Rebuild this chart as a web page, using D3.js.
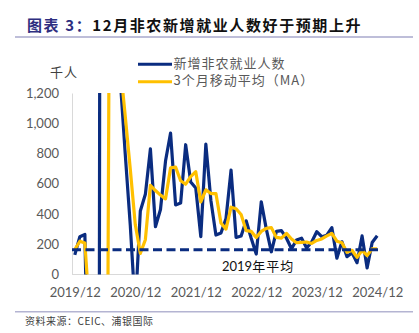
<!DOCTYPE html>
<html>
<head>
<meta charset="utf-8">
<script src="https://cdn.jsdelivr.net/npm/d3@7/dist/d3.min.js"></script>
<style>
  html, body { margin: 0; padding: 0; background: #fff; }
  svg { display: block; }
</style>
</head>
<body>
<svg id="chart" width="419" height="333"></svg>
<script>
// Monthly categories, Dec 2019 – Dec 2024
const months = [
  "2019/12",
  "2020/01","2020/02","2020/03","2020/04","2020/05","2020/06","2020/07","2020/08","2020/09","2020/10","2020/11","2020/12",
  "2021/01","2021/02","2021/03","2021/04","2021/05","2021/06","2021/07","2021/08","2021/09","2021/10","2021/11","2021/12",
  "2022/01","2022/02","2022/03","2022/04","2022/05","2022/06","2022/07","2022/08","2022/09","2022/10","2022/11","2022/12",
  "2023/01","2023/02","2023/03","2023/04","2023/05","2023/06","2023/07","2023/08","2023/09","2023/10","2023/11","2023/12",
  "2024/01","2024/02","2024/03","2024/04","2024/05","2024/06","2024/07","2024/08","2024/09","2024/10","2024/11","2024/12"
];

// 新增非农就业人数 (千人)
const payrolls = [
  130,
  250, 265, -1373, -20477, 2794, 4573, 1726, 1583, 1300, 800, 330, -230,
  420, 530, 830, 316, 430, 750, 935, 460, 472, 858, 612, 572,
  250, 862, 490, 261, 275, 370, 690, 245, 255, 355, 240, 135,
  481, 300, 150, 285, 290, 240, 170, 228, 240, 175, 215, 283,
  250, 260, 310, 108, 216, 118, 144, 78, 255, 43, 212, 256
];

// 3个月移动平均 (千人)
const movingAvg = [
  165,
  220, 208, -290, -7200, -6350, -4370, 3030, 2630, 1390, 1050, 700, 330,
  140, 230, 590, 555, 525, 500, 705, 710, 620, 597, 647, 680,
  480, 560, 535, 535, 340, 300, 445, 435, 397, 290, 285, 245,
  285, 305, 310, 245, 240, 272, 235, 210, 213, 215, 205, 225,
  235, 255, 272, 220, 210, 147, 160, 113, 160, 125, 170, 170
];

// 2019年平均
const avg2019 = 163;

const xTickLabels = ["2019/12", "2020/12", "2021/12", "2022/12", "2023/12", "2024/12"];
const yTicks = [0, 200, 400, 600, 800, 1000, 1200];

const legendItems = [
  { name: "新增非农就业人数", color: "#0A2C80" },
  { name: "3个月移动平均（MA）", color: "#FFC000" }
];

const svg = d3.select("#chart");
const NAVY = "#0A2C80";
const GOLD = "#FFC000";
const LATIN = "Lato, 'Liberation Sans', sans-serif";
const CJK = "'Noto Sans CJK SC', 'Noto Sans', sans-serif";

// Title
const title = svg.append("text")
  .attr("x", 27).attr("y", 31)
  .attr("font-family", CJK)
  .attr("font-size", 15)
  .attr("font-weight", "bold")
  .attr("letter-spacing", 1.6);
title.append("tspan").attr("fill", "#2E2E80").text("图表 3：");
title.append("tspan").attr("fill", "#111").text("12月非农新增就业人数好于预期上升");

svg.append("line")
  .attr("x1", 15).attr("x2", 413).attr("y1", 37).attr("y2", 37)
  .attr("stroke", "#A8A8CC").attr("stroke-width", 1.5);

// Plot area
const plot = { left: 72, right: 380, top: 93, bottom: 274.5 };

const x = d3.scalePoint()
  .domain(months)
  .range([74.8, 377.2]);

const y = d3.scaleLinear()
  .domain([0, 1200])
  .range([plot.bottom, plot.top]);

svg.append("defs").append("clipPath").attr("id", "plotClip")
  .append("rect")
  .attr("x", plot.left).attr("y", plot.top)
  .attr("width", plot.right - plot.left)
  .attr("height", plot.bottom - plot.top);

// Y axis
const yAxis = svg.append("g")
  .attr("transform", `translate(${plot.left},0)`)
  .call(d3.axisLeft(y).tickValues(yTicks).tickFormat(d3.format(",")).tickSize(0).tickPadding(13));
yAxis.select(".domain").attr("stroke", "#D9D9D9").attr("stroke-width", 1);
yAxis.selectAll("text")
  .attr("font-family", LATIN).attr("font-size", 13).attr("fill", "#595959");

// X axis
const xAxis = svg.append("g")
  .attr("transform", `translate(0,${plot.bottom})`)
  .call(d3.axisBottom(x).tickValues(xTickLabels).tickSize(0).tickPadding(13));
xAxis.select(".domain").remove();
xAxis.selectAll("text")
  .attr("font-family", LATIN).attr("font-size", 13).attr("fill", "#595959");
svg.append("line")
  .attr("x1", plot.left).attr("x2", plot.right)
  .attr("y1", plot.bottom).attr("y2", plot.bottom)
  .attr("stroke", "#D9D9D9").attr("stroke-width", 1);

// Unit label
svg.append("text")
  .attr("x", 50).attr("y", 73)
  .attr("dominant-baseline", "middle")
  .attr("font-family", CJK).attr("font-size", 13)
  .attr("letter-spacing", 1)
  .attr("fill", "#404040")
  .text("千人");

// Series lines
const lineGen = d3.line()
  .x((d, i) => x(months[i]))
  .y(d => y(d));

const series = svg.append("g").attr("clip-path", "url(#plotClip)");

series.append("path")
  .datum(payrolls)
  .attr("d", lineGen)
  .attr("fill", "none")
  .attr("stroke", NAVY)
  .attr("stroke-width", 3.2)
  .attr("stroke-linejoin", "round");

series.append("path")
  .datum(movingAvg)
  .attr("d", lineGen)
  .attr("fill", "none")
  .attr("stroke", GOLD)
  .attr("stroke-width", 3.2)
  .attr("stroke-linejoin", "round");

// 2019 average reference line
svg.append("line")
  .attr("x1", plot.left).attr("x2", plot.right)
  .attr("y1", y(avg2019)).attr("y2", y(avg2019))
  .attr("stroke", NAVY)
  .attr("stroke-width", 3)
  .attr("stroke-dasharray", "9,4.5");

const avgLabel = svg.append("text")
  .attr("x", 222).attr("y", 271)
  .attr("font-size", 13)
  .attr("fill", "#111");
avgLabel.append("tspan").attr("font-family", LATIN).text("2019");
avgLabel.append("tspan").attr("font-family", CJK).attr("letter-spacing", 1).text("年平均");

// Legend
const legend = svg.append("g");
legendItems.forEach((item, i) => {
  const ly = 64.3 + i * 17.4;
  legend.append("line")
    .attr("x1", 138).attr("x2", 172)
    .attr("y1", ly).attr("y2", ly)
    .attr("stroke", item.color).attr("stroke-width", 3);
  legend.append("text")
    .attr("x", 173.5).attr("y", ly)
    .attr("dominant-baseline", "middle")
    .attr("font-family", CJK).attr("font-size", 13)
    .attr("letter-spacing", 1)
    .attr("fill", "#595959")
    .text(item.name);
});

// Source note
svg.append("line")
  .attr("x1", 15).attr("x2", 413).attr("y1", 311.7).attr("y2", 311.7)
  .attr("stroke", "#B4B4D2").attr("stroke-width", 1.5);
svg.append("text")
  .attr("x", 25).attr("y", 322.5)
  .attr("dominant-baseline", "middle")
  .attr("font-family", CJK).attr("font-size", 10)
  .attr("letter-spacing", 0.5)
  .attr("fill", "#404040")
  .text("资料来源：CEIC、浦银国际");
</script>
</body>
</html>
